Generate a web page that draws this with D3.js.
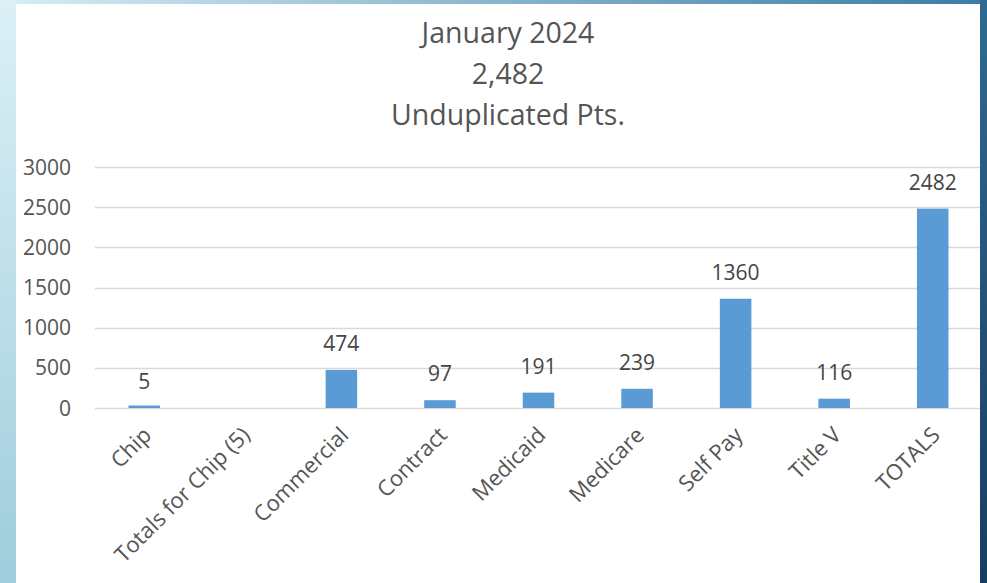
<!DOCTYPE html>
<html>
<head>
<meta charset="utf-8">
<script src="https://cdn.jsdelivr.net/npm/d3@7"></script>
<style>
  html, body { margin: 0; padding: 0; background: #fff; }
  svg { display: block; font-family: 'Open Sans', 'Noto Sans', sans-serif; }
</style>
</head>
<body>
<svg id="chart" width="987" height="583"></svg>
<script>
// chart data
const categories = ['Chip', 'Totals for Chip (5)', 'Commercial', 'Contract', 'Medicaid', 'Medicare', 'Self Pay', 'Title V', 'TOTALS'];
const values = [5, null, 474, 97, 191, 239, 1360, 116, 2482];
const yTicks = [0, 500, 1000, 1500, 2000, 2500, 3000];
const titleLines = ['January 2024', '2,482', 'Unduplicated Pts.'];

const svg = d3.select('#chart');
const width = 987, height = 583;
const textColor = '#555555';

// background frame
const defs = svg.append('defs');
const leftGrad = defs.append('linearGradient').attr('id', 'leftGrad')
  .attr('x1', 0).attr('y1', 0).attr('x2', 0).attr('y2', 1);
leftGrad.append('stop').attr('offset', '0%').attr('stop-color', '#dcf0f6');
leftGrad.append('stop').attr('offset', '100%').attr('stop-color', '#9fcddb');
const rightGrad = defs.append('linearGradient').attr('id', 'rightGrad')
  .attr('x1', 0).attr('y1', 0).attr('x2', 0).attr('y2', 1);
rightGrad.append('stop').attr('offset', '0%').attr('stop-color', '#2f6a92');
rightGrad.append('stop').attr('offset', '100%').attr('stop-color', '#1a3c62');
const topGrad = defs.append('linearGradient').attr('id', 'topGrad')
  .attr('x1', 0).attr('y1', 0).attr('x2', 1).attr('y2', 0);
topGrad.append('stop').attr('offset', '0%').attr('stop-color', '#d8eef5');
topGrad.append('stop').attr('offset', '100%').attr('stop-color', '#3a7ca4');

svg.append('rect').attr('width', width).attr('height', height).attr('fill', '#fff');
svg.append('rect').attr('x', 0).attr('y', 0).attr('width', width).attr('height', 4).attr('fill', 'url(#topGrad)');
svg.append('rect').attr('x', 0).attr('y', 0).attr('width', 16).attr('height', height).attr('fill', 'url(#leftGrad)');

// scales
const x = d3.scaleBand()
  .domain(categories)
  .range([95, 982])
  .paddingInner(0.68)
  .paddingOuter(0.34);
const y = d3.scaleLinear()
  .domain([0, 3000])
  .range([408, 167]);

// gridlines
svg.append('g')
  .selectAll('line')
  .data(yTicks)
  .enter()
  .append('line')
  .attr('x1', 95)
  .attr('x2', 980)
  .attr('y1', (d) => Math.round(y(d)) + 0.5)
  .attr('y2', (d) => Math.round(y(d)) + 0.5)
  .attr('stroke', '#d9d9d9')
  .attr('stroke-width', 1.5);

// y axis labels
svg.append('g')
  .selectAll('text')
  .data(yTicks)
  .enter()
  .append('text')
  .attr('x', 71)
  .attr('y', (d) => y(d))
  .attr('dy', '0.36em')
  .attr('text-anchor', 'end')
  .attr('fill', textColor)
  .style('font-size', '21px')
  .text((d) => d);

// bars (keep tiny values visible like the original)
const barData = categories.map((c, i) => ({ name: c, value: values[i] }));
svg.append('g')
  .selectAll('rect')
  .data(barData.filter((d) => d.value !== null))
  .enter()
  .append('rect')
  .attr('x', (d) => x(d.name))
  .attr('width', x.bandwidth())
  .attr('y', (d) => Math.min(y(d.value), y(0) - 2.5))
  .attr('height', (d) => Math.max(y(0) - y(d.value), 2.5))
  .attr('fill', '#5b9bd5');

// value labels
svg.append('g')
  .selectAll('text')
  .data(barData.filter((d) => d.value !== null))
  .enter()
  .append('text')
  .attr('x', (d) => x(d.name) + x.bandwidth() / 2)
  .attr('y', (d) => y(d.value) - 19)
  .attr('text-anchor', 'middle')
  .attr('fill', '#454545')
  .style('font-size', '21px')
  .text((d) => d.value);

// category labels, rotated
svg.append('g')
  .selectAll('text')
  .data(categories)
  .enter()
  .append('text')
  .attr('transform', (d) => `translate(${x(d) + x.bandwidth() / 2 + 3},${431}) rotate(-45)`)
  .attr('text-anchor', 'end')
  .attr('dy', '0.35em')
  .attr('fill', textColor)
  .style('font-size', '22px')
  .text((d) => d);

// title
svg.append('g')
  .selectAll('text')
  .data(titleLines)
  .enter()
  .append('text')
  .attr('x', 508)
  .attr('y', (d, i) => 33 + i * 41)
  .attr('dy', '0.35em')
  .attr('text-anchor', 'middle')
  .attr('fill', textColor)
  .style('font-size', '28.5px')
  .text((d) => d);

// right edge strip
svg.append('rect').attr('x', 980).attr('y', 0).attr('width', 7).attr('height', height).attr('fill', 'url(#rightGrad)');
</script>
</body>
</html>
